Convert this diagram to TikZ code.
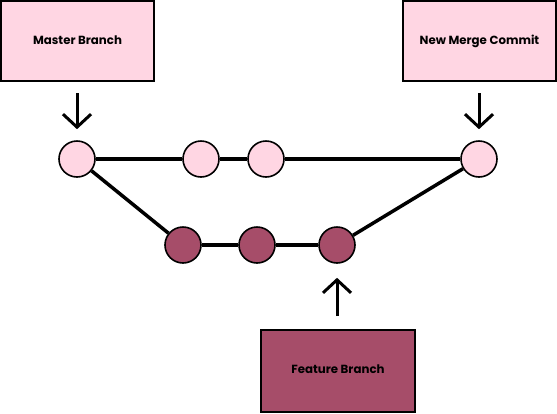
\documentclass[tikz,border=0pt]{standalone}
\usepackage{fontspec}
\setmainfont{Poppins}
\usetikzlibrary{arrows.meta}
\definecolor{lpink}{HTML}{FFD6E3}
\definecolor{maroon}{HTML}{A64D69}
\begin{document}
\begin{tikzpicture}[x=1pt,y=-1pt,
  box/.style={draw=black,line width=2pt,minimum width=153pt,minimum height=80pt,inner sep=0pt,font=\fontsize{11.8}{13}\selectfont\bfseries},
  commit/.style={circle,draw=black,line width=1.6pt,minimum size=36pt,inner sep=0pt},
  link/.style={line width=3.5pt},
  ptr/.style={line width=3pt,-{Straight Barb[length=13pt,width=28pt,line width=3pt]}}]
\useasboundingbox (0,0) rectangle (557,413);
\node[box,fill=lpink] (master) at (77.5,41) {\raisebox{2.5pt}{Master Branch}};
\node[box,fill=lpink] (merge) at (479.5,41) {\raisebox{2.5pt}{New Merge Commit}};
\node[box,fill=maroon,minimum width=154pt,minimum height=82pt] (feature) at (338,371) {\raisebox{3pt}{Feature Branch}};
\node[commit,fill=lpink] (m1) at (77,159) {};
\node[commit,fill=lpink] (m2) at (201,159) {};
\node[commit,fill=lpink] (m3) at (266,159) {};
\node[commit,fill=lpink] (m4) at (479,159) {};
\node[commit,fill=maroon] (f1) at (183,245) {};
\node[commit,fill=maroon] (f2) at (257,245) {};
\node[commit,fill=maroon] (f3) at (337,245) {};
\draw[link] (m1) -- (m2);
\draw[link] (m2) -- (m3);
\draw[link] (m3) -- (m4);
\draw[link] (m1) -- (f1);
\draw[link] (f1) -- (f2);
\draw[link] (f2) -- (f3);
\draw[link] (f3) -- (m4);
\draw[ptr,shorten <=11pt,shorten >=11pt] (master.south -| m1) -- (m1.north);
\draw[ptr,shorten <=11pt,shorten >=11pt] (merge.south -| m4) -- (m4.north);
\draw[ptr,shorten <=13pt,shorten >=14pt] (feature.north -| f3) -- (f3.south);
\end{tikzpicture}
\end{document}
